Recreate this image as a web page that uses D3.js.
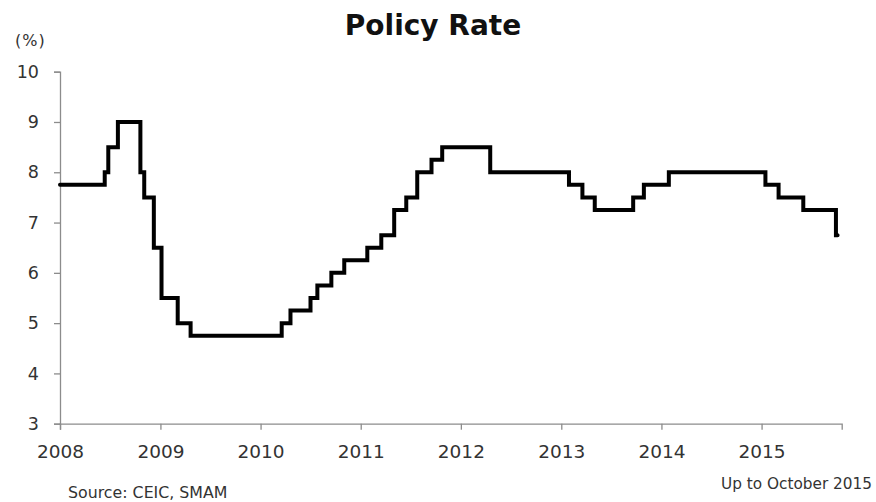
<!DOCTYPE html>
<html>
<head>
<meta charset="utf-8">
<script src="https://cdn.jsdelivr.net/npm/d3@7"></script>
<style>
  html, body { margin: 0; padding: 0; background: #fff; }
  svg { display: block; font-family: "DejaVu Sans", Verdana, sans-serif; }
</style>
</head>
<body>
<svg id="chart" width="876" height="502"></svg>
<script>
// Policy rate change dates and levels (%)
const changeDates = [
  "2008-01-01","2008-06-12","2008-06-25","2008-07-30","2008-10-20","2008-11-03",
  "2008-12-08","2009-01-05","2009-03-05","2009-04-21","2010-03-19","2010-04-20",
  "2010-07-02","2010-07-27","2010-09-16","2010-11-02","2011-01-25","2011-03-17",
  "2011-05-03","2011-06-16","2011-07-26","2011-09-16","2011-10-25","2012-04-17",
  "2013-01-29","2013-03-19","2013-05-03","2013-09-20","2013-10-29","2014-01-28",
  "2015-01-15","2015-03-04","2015-06-02","2015-09-29","2015-10-05"
];
const rates = [
  7.75, 8.00, 8.50, 9.00, 8.00, 7.50,
  6.50, 5.50, 5.00, 4.75, 5.00, 5.25,
  5.50, 5.75, 6.00, 6.25, 6.50, 6.75,
  7.25, 7.50, 8.00, 8.25, 8.50, 8.00,
  7.75, 7.50, 7.25, 7.50, 7.75, 8.00,
  7.75, 7.50, 7.25, 6.75, 6.75
];
const yTicks = [3, 4, 5, 6, 7, 8, 9, 10];
const xTickYears = [2008, 2009, 2010, 2011, 2012, 2013, 2014, 2015];

(function () {
const parse = d3.timeParse("%Y-%m-%d");
const data = changeDates.map((d, i) => ({ date: parse(d), value: rates[i] }));

const svg = d3.select("#chart");
const pLeft = 60, pRight = 841.7, pTop = 71.7, pBottom = 423.7;
const axisColor = "#8c8c8c";
const textColor = "#333333";
const ff = "DejaVu Sans, Verdana, sans-serif";

const x = d3.scaleTime()
  .domain([new Date(2008, 0, 1), new Date(2015, 9, 20)])
  .range([pLeft, pRight]);
const y = d3.scaleLinear().domain([3, 10]).range([pBottom, pTop]);

// Y axis
const yAxis = svg.append("g").attr("transform", `translate(${pLeft},0)`)
  .call(d3.axisLeft(y).tickValues(yTicks).tickSize(6).tickPadding(15).tickFormat(d3.format("d")));
yAxis.select(".domain").attr("stroke", axisColor).attr("stroke-width", 1.3);
yAxis.selectAll(".tick line").attr("stroke", axisColor).attr("stroke-width", 1.3);
yAxis.selectAll(".tick text").attr("fill", textColor).attr("font-size", 17.5)
  .attr("font-family", ff);

// X axis
const xAxis = svg.append("g").attr("transform", `translate(0,${pBottom})`)
  .call(d3.axisBottom(x).tickValues(xTickYears.map(yr => new Date(yr, 0, 1)))
    .tickSize(6).tickPadding(15).tickFormat(d3.timeFormat("%Y")));
xAxis.select(".domain").attr("stroke", axisColor).attr("stroke-width", 1.3);
xAxis.selectAll(".tick line").attr("stroke", axisColor).attr("stroke-width", 1.3);
xAxis.selectAll(".tick text").attr("fill", textColor).attr("font-size", 18.5)
  .attr("font-family", ff);

// Line
const line = d3.line().x(d => x(d.date)).y(d => y(d.value)).curve(d3.curveStepAfter);
svg.append("path").datum(data)
  .attr("d", line)
  .attr("fill", "none")
  .attr("stroke", "#000")
  .attr("stroke-width", 4)
  .attr("stroke-linejoin", "miter")
  .attr("stroke-linecap", "round");

// Texts
svg.append("text").attr("x", 433).attr("y", 35).attr("text-anchor", "middle")
  .attr("font-size", 28).attr("font-weight", "bold").attr("fill", "#111")
  .text("Policy Rate");
svg.append("text").attr("x", 15).attr("y", 46)
  .attr("font-size", 16).attr("letter-spacing", 1).attr("fill", textColor).text("(%)");
svg.append("text").attr("x", 68).attr("y", 497.5)
  .attr("font-size", 15.8).attr("fill", textColor).text("Source: CEIC, SMAM");
svg.append("text").attr("x", 872).attr("y", 489).attr("text-anchor", "end")
  .attr("font-size", 15.3).attr("fill", textColor).text("Up to October 2015");
})();
</script>
</body>
</html>
